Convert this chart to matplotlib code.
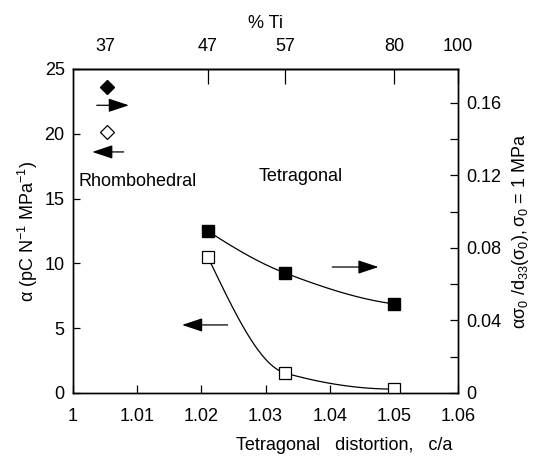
import matplotlib
matplotlib.use('Agg')
import matplotlib.pyplot as plt
import numpy as np

plt.rcParams['font.family'] = ['Liberation Sans', 'DejaVu Sans']
plt.rcParams['mathtext.fontset'] = 'custom'
plt.rcParams['mathtext.rm'] = 'Liberation Sans'
plt.rcParams['mathtext.it'] = 'Liberation Sans'
plt.rcParams['mathtext.sf'] = 'Liberation Sans'

# data
ca = [1.021, 1.033, 1.05]
alpha_open = [10.5, 1.55, 0.3]          # left axis, pC/N/MPa
ratio_filled = [0.0893, 0.0662, 0.0491]  # right axis
rhombo_ca = 1.0053
rhombo_alpha = 20.1
rhombo_ratio = 0.1686

ti_pos = [1.005, 1.021, 1.033, 1.05, 1.06]
ti_labels = ['37', '47', '57', '80', '100']

scale = 140.0  # right axis = left axis / d33
FS = 13


def pchip(x, y, xn):
    # monotone cubic through the measured points (just for the drawn curve)
    x = np.asarray(x, float)
    y = np.asarray(y, float)
    h = np.diff(x)
    d = np.diff(y) / h
    m = np.zeros_like(y)
    for k in range(1, len(x) - 1):
        if d[k - 1] * d[k] > 0:
            w1 = 2 * h[k] + h[k - 1]
            w2 = h[k] + 2 * h[k - 1]
            m[k] = (w1 + w2) / (w1 / d[k - 1] + w2 / d[k])
    m[0] = ((2 * h[0] + h[1]) * d[0] - h[0] * d[1]) / (h[0] + h[1])
    if np.sign(m[0]) != np.sign(d[0]):
        m[0] = 0
    m[-1] = ((2 * h[-1] + h[-2]) * d[-1] - h[-1] * d[-2]) / (h[-1] + h[-2])
    if np.sign(m[-1]) != np.sign(d[-1]):
        m[-1] = 0
    out = np.empty_like(xn)
    for i, xv in enumerate(xn):
        k = min(np.searchsorted(x, xv) - 1, len(x) - 2)
        k = max(k, 0)
        t = (xv - x[k]) / h[k]
        h00 = 2 * t**3 - 3 * t**2 + 1
        h10 = t**3 - 2 * t**2 + t
        h01 = -2 * t**3 + 3 * t**2
        h11 = t**3 - t**2
        out[i] = h00 * y[k] + h10 * h[k] * m[k] + h01 * y[k + 1] + h11 * h[k] * m[k + 1]
    return out


fig = plt.figure(figsize=(5.4, 4.59), dpi=100)
ax = fig.add_axes([0.1352, 0.1438, 0.7130, 0.7059])
axr = ax.twinx()

xs = np.linspace(ca[0], ca[-1], 200)
ax.plot(xs, pchip(ca, alpha_open, xs), color='black', lw=0.9, zorder=2)
ax.plot(ca, alpha_open, 's', ms=8, mfc='white', mec='black', mew=0.9, zorder=3)
ax.plot(rhombo_ca, rhombo_alpha, 'D', ms=7, mfc='white', mec='black', mew=0.9)

axr.plot(xs, pchip(ca, ratio_filled, xs), color='black', lw=0.9, zorder=2)
axr.plot(ca, ratio_filled, 's', ms=8.5, color='black', zorder=3)
axr.plot(rhombo_ca, rhombo_ratio, 'D', ms=7.5, color='black')

ax.set_xlim(1.0, 1.06)
ax.set_ylim(0, 25)
axr.set_ylim(0, 25 / scale)

arrow = dict(arrowstyle='-|>,head_length=0.9,head_width=0.3', color='black',
             lw=0.9, mutation_scale=14, shrinkA=0, shrinkB=0)
ax.annotate('', xy=(1.0087, 22.2), xytext=(1.0037, 22.2), arrowprops=arrow)
ax.annotate('', xy=(1.0030, 18.6), xytext=(1.0079, 18.6), arrowprops=arrow)
ax.annotate('', xy=(1.0476, 9.72), xytext=(1.0404, 9.72), arrowprops=arrow)
ax.annotate('', xy=(1.0170, 5.25), xytext=(1.0241, 5.25), arrowprops=arrow)

ax.text(1.0009, 16.3, 'Rhombohedral', fontsize=FS, va='center')
ax.text(1.0290, 16.7, 'Tetragonal', fontsize=FS, va='center')

ax.set_xticks([1.0, 1.01, 1.02, 1.03, 1.04, 1.05, 1.06])
ax.set_xticklabels(['1', '1.01', '1.02', '1.03', '1.04', '1.05', '1.06'])
ax.set_yticks([0, 5, 10, 15, 20, 25])
ax.tick_params(axis='x', direction='in', length=6, width=0.9, labelsize=FS, pad=11)
ax.tick_params(axis='y', direction='in', length=5, width=0.9, labelsize=FS, pad=6)

axr.set_yticks(np.arange(0, 0.17, 0.04))
axr.set_yticklabels(['0', '0.04', '0.08', '0.12', '0.16'])
axr.set_yticks(np.arange(0.02, 0.17, 0.04), minor=True)
axr.tick_params(axis='y', which='both', direction='in', length=6, width=0.9,
                labelsize=FS, pad=6)

top = ax.secondary_xaxis('top')
top.set_xticks(ti_pos)
top.set_xticklabels(ti_labels)
top.tick_params(direction='in', length=11, width=0.9, labelsize=FS, pad=10)
top.xaxis.get_major_ticks()[0].tick2line.set_markersize(0)
top.xaxis.get_major_ticks()[0].tick1line.set_markersize(0)
top.set_xlabel('% Ti', fontsize=FS, labelpad=7)

ax.set_ylabel(r'$\alpha$ (pC N$^{-1}$ MPa$^{-1}$)', fontsize=FS, labelpad=3)
axr.set_ylabel(r'$\alpha\sigma_0\ /d_{33}(\sigma_0), \sigma_0$ = 1 MPa', fontsize=FS,
               labelpad=6)
ax.set_xlabel('Tetragonal   distortion,   c/a', fontsize=FS, loc='right')
ax.xaxis.set_label_coords(0.985, -0.135)

for a in (ax, axr):
    for s in a.spines.values():
        s.set_linewidth(1.0)
top.spines['top'].set_linewidth(1.0)

fig.savefig('out.png', dpi=100)
